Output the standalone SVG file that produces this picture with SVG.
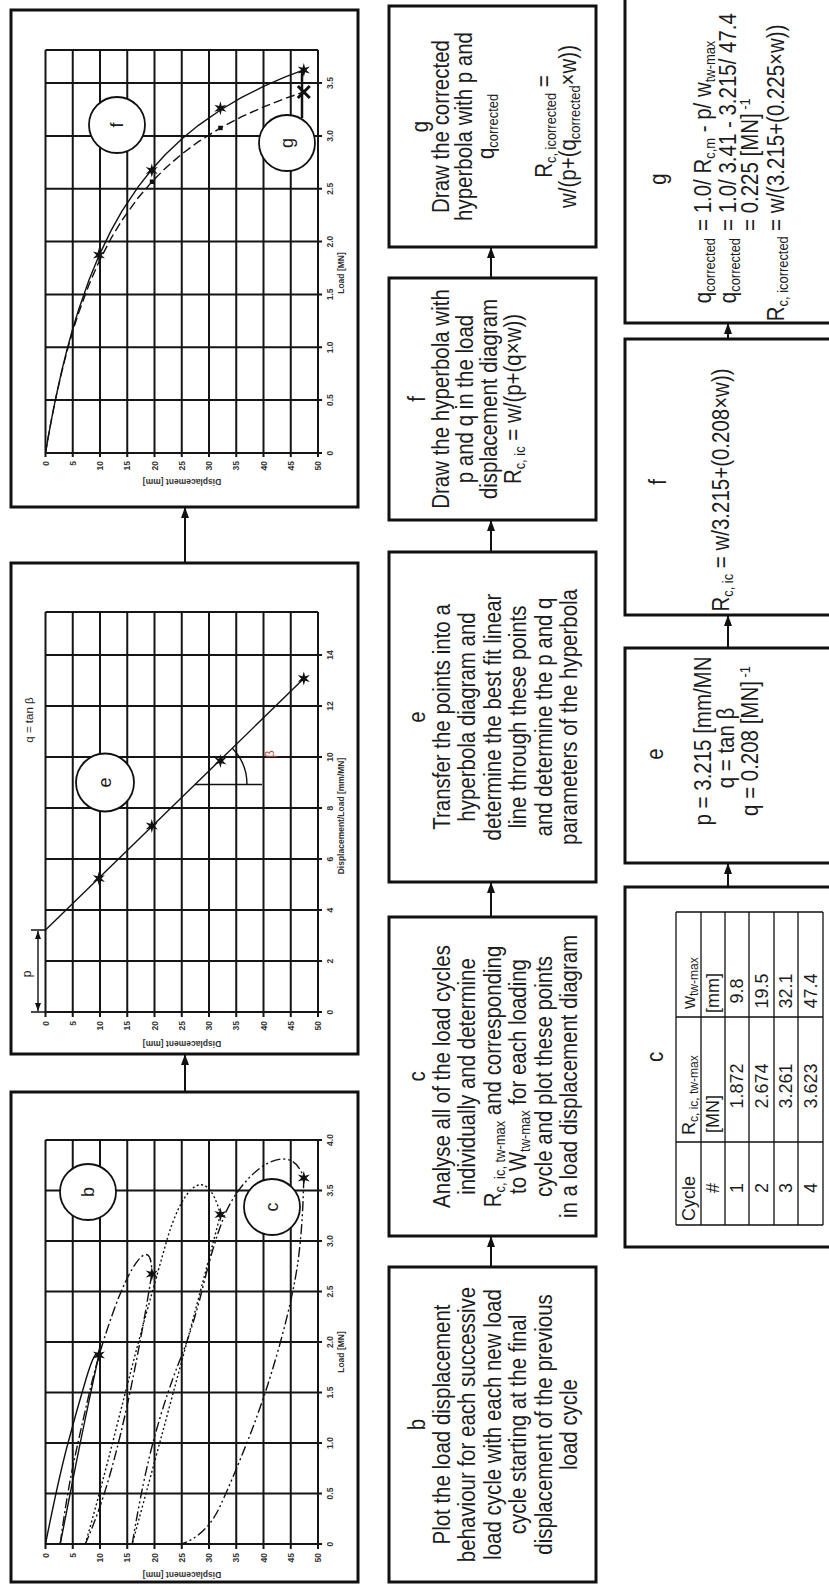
<svg xmlns="http://www.w3.org/2000/svg" width="829" height="1584" viewBox="0 0 829 1584">
<defs>
<style>
.box{fill:#fff;stroke:#111;stroke-width:3}
.grid{fill:none;stroke:#151515;stroke-width:2}
.t{font-family:"Liberation Sans",Arial,sans-serif;font-size:23px;fill:#1c1c1c}
.m{text-anchor:middle}
.e{text-anchor:end}
.sb{font-size:14.5px}
.ax{font-family:"Liberation Sans",Arial,sans-serif;font-size:8.5px;font-weight:bold;fill:#333}
.tb{font-family:"Liberation Sans",Arial,sans-serif;font-size:18px;fill:#1c1c1c}
.ts{font-size:12px}
.cl{font-family:"Liberation Sans",Arial,sans-serif;font-size:18px;fill:#1c1c1c;text-anchor:middle}
.conn{fill:none;stroke:#111;stroke-width:2;marker-end:url(#ah)}
.circ{fill:#fff;stroke:#111;stroke-width:1.8}
.cv{fill:none;stroke:#111;stroke-width:1.4}
.tbl{fill:none;stroke:#111;stroke-width:1.3}
</style>
<marker id="ah" markerUnits="userSpaceOnUse" markerWidth="11" markerHeight="8" refX="11" refY="4" orient="auto"><path d="M0 0L11 4L0 8z" fill="#111"/></marker>
<marker id="ap" markerUnits="userSpaceOnUse" markerWidth="8" markerHeight="6" refX="8" refY="3" orient="auto-start-reverse"><path d="M0 0L8 3L0 6z" fill="#111"/></marker>
<polygon id="star" points="7,0 2.25,1.3 3.5,6.06 0,2.6 -3.5,6.06 -2.25,1.3 -7,0 -2.25,-1.3 -3.5,-6.06 0,-2.6 3.5,-6.06 2.25,-1.3" fill="#111"/>
<path id="xm" d="M-6 -6L6 6M-6 6L6 -6" stroke="#111" stroke-width="3" fill="none"/>
</defs>
<rect width="829" height="1584" fill="#fff"/>
<g transform="matrix(0,-1,1,0,0,1584)">

<!-- Chart b (load cycles) -->
<g id="chart-b">
<rect class="box" x="2" y="11" width="490" height="347"/>
<path class="grid" d="M40 45.5V322M90.5 45.5V322M141 45.5V322M191.5 45.5V322M242 45.5V322M292.5 45.5V322M343 45.5V322M393.5 45.5V322M444 45.5V322M35 45.5H444M35 72.75H444M35 100H444M35 127.25H444M35 154.5H444M35 181.75H444M35 209H444M35 236.25H444M35 263.5H444M35 290.75H444M35 318H444"/>
<g class="ax m">
<text x="40" y="333">0</text><text x="90.5" y="333">0.5</text><text x="141" y="333">1.0</text><text x="191.5" y="333">1.5</text><text x="242" y="333">2.0</text><text x="292.5" y="333">2.5</text><text x="343" y="333">3.0</text><text x="393.5" y="333">3.5</text><text x="444" y="333">4.0</text>
<text x="232" y="344">Load [MN]</text>
<text transform="translate(12 182) rotate(-90)">Displacement [mm]</text>
</g>
<g class="ax e">
<text x="31" y="48.5">0</text><text x="31" y="75.75">5</text><text x="31" y="103">10</text><text x="31" y="130.25">15</text><text x="31" y="157.5">20</text><text x="31" y="184.75">25</text><text x="31" y="212">30</text><text x="31" y="239.25">35</text><text x="31" y="266.5">40</text><text x="31" y="293.75">45</text><text x="31" y="321">50</text>
</g>
<path class="cv" d="M40 45.5Q105.7 58.6 139.5 67.6Q173.3 76.6 205.2 86.1Q237 95.6 229.1 98.9M229.1 98.9Q156.2 83.1 114.8 75Q73.3 66.8 40 60.2"/>
<path class="cv" stroke-dasharray="10 3 2 3" d="M40 60.2Q89.5 66.8 124.8 74.4Q160 82 196 90.5Q231.9 98.9 270.8 112.8C320 130 352 152 310.1 151.8M310.1 151.8Q256.1 143.1 206.2 133Q156.2 122.9 114.8 111.5Q73.3 100 40 85.3"/>
<path class="cv" stroke-dasharray="2 2.5" d="M40 85.3Q89.5 99.5 156.2 116.4Q222.8 133.2 259.7 143.3Q296.5 153.4 343.5 166.8C390 180 428 205 369.4 220.4M369.4 220.4Q289.5 199.7 240 186.4Q190.5 173 148.1 161.6Q105.7 150.1 40 132.2"/>
<path class="cv" stroke-dasharray="10 3 2 3 2 3" d="M40 132.2Q105.7 143.1 148.1 154.8Q190.5 166.5 223.9 179.9Q257.2 193.2 298.6 203.3Q340 213.4 365.3 223.2C410 240 450 290 405.9 303.8M405.9 303.8Q357.1 302.7 323.3 298.1Q289.5 293.5 240 279.9Q190.5 266.2 148.1 249.6Q105.7 233 77.4 219.9Q49.1 206.8 40 181.75"/>
<circle class="circ" cx="392" cy="88" r="28"/>
<text class="cl" x="392" y="94">b</text>
<circle class="circ" cx="377" cy="272" r="28"/>
<text class="cl" x="377" y="278">c</text>
<use href="#star" x="229.1" y="98.9"/>
<use href="#star" x="310.1" y="151.8"/>
<use href="#star" x="369.4" y="220.4"/>
<use href="#star" x="405.9" y="303.8"/>
</g>

<!-- Chart e (hyperbola transform) -->
<g id="chart-e">
<rect class="box" x="530" y="11" width="491" height="347"/>
<path class="grid" d="M572 45.5V322M623 45.5V322M674 45.5V322M725 45.5V322M776 45.5V322M827 45.5V322M878 45.5V322M929 45.5V322M972 45.5V318M567 45.5H972M567 72.75H972M567 100H972M567 127.25H972M567 154.5H972M567 181.75H972M567 209H972M567 236.25H972M567 263.5H972M567 290.75H972M567 318H972"/>
<g class="ax m">
<text x="572" y="333">0</text><text x="623" y="333">2</text><text x="674" y="333">4</text><text x="725" y="333">6</text><text x="776" y="333">8</text><text x="827" y="333">10</text><text x="878" y="333">12</text><text x="929" y="333">14</text>
<text x="768" y="344">Displacement/Load [mm/MN]</text>
<text transform="translate(543 182) rotate(-90)">Displacement [mm]</text>
</g>
<g class="ax e">
<text x="563" y="48.5">0</text><text x="563" y="75.75">5</text><text x="563" y="103">10</text><text x="563" y="130.25">15</text><text x="563" y="157.5">20</text><text x="563" y="184.75">25</text><text x="563" y="212">30</text><text x="563" y="239.25">35</text><text x="563" y="266.5">40</text><text x="563" y="293.75">45</text><text x="563" y="321">50</text>
</g>
<path class="cv" d="M654 45.5L905.4 303.8"/>
<path class="cv" d="M572 31V45.5M654 31V45.5"/>
<path class="cv" d="M573 38H653" marker-start="url(#ap)" marker-end="url(#ap)"/>
<text class="cl" style="font-size:12px" x="610" y="31">p</text>
<text class="cl" style="font-size:11.5px" x="864" y="33">q = tan β</text>
<path class="cv" d="M799.5 195V262M799.5 247A52 52 0 0 0 835.8 232.3"/>
<text class="cl" style="font-size:13px;fill:#b5523b" x="830" y="274">β</text>
<circle class="circ" cx="801.5" cy="105" r="29"/>
<text class="cl" x="801.5" y="111">e</text>
<use href="#star" x="705.5" y="98.9"/>
<use href="#star" x="758" y="151.8"/>
<use href="#star" x="823" y="220.4"/>
<use href="#star" x="905.6" y="303.8"/>
</g>

<!-- Chart f (hyperbola in load displacement diagram) -->
<g id="chart-f">
<rect class="box" x="1077" y="11" width="497" height="347"/>
<path class="grid" d="M1131 45.5V322M1183.9 45.5V322M1236.7 45.5V322M1289.6 45.5V322M1342.4 45.5V322M1395.3 45.5V322M1448.1 45.5V322M1501 45.5V322M1534 45.5V318M1127 45.5H1534M1127 72.75H1534M1127 100H1534M1127 127.25H1534M1127 154.5H1534M1127 181.75H1534M1127 209H1534M1127 236.25H1534M1127 263.5H1534M1127 290.75H1534M1127 318H1534"/>
<g class="ax m">
<text x="1131" y="333">0</text><text x="1183.9" y="333">0.5</text><text x="1236.7" y="333">1.0</text><text x="1289.6" y="333">1.5</text><text x="1342.4" y="333">2.0</text><text x="1395.3" y="333">2.5</text><text x="1448.1" y="333">3.0</text><text x="1501" y="333">3.5</text>
<text x="1311" y="344">Load [MN]</text>
<text transform="translate(1105 182) rotate(-90)">Displacement [mm]</text>
</g>
<g class="ax e">
<text x="1123" y="48.5">0</text><text x="1123" y="75.75">5</text><text x="1123" y="103">10</text><text x="1123" y="130.25">15</text><text x="1123" y="157.5">20</text><text x="1123" y="184.75">25</text><text x="1123" y="212">30</text><text x="1123" y="239.25">35</text><text x="1123" y="266.5">40</text><text x="1123" y="293.75">45</text><text x="1123" y="321">50</text>
</g>
<polyline class="cv" points="1131,45.5 1146.92,48.23 1161.88,50.95 1175.95,53.68 1189.22,56.4 1213.6,61.85 1235.47,67.3 1255.21,72.75 1273.1,78.2 1304.31,89.1 1328.18,98.91 1353.1,110.9 1372.52,121.8 1397.17,138.15 1414.48,151.78 1429.47,165.4 1445.02,181.75 1458.42,198.1 1474.01,220.45 1486.53,241.7 1497.54,263.5 1507.07,285.3 1514.21,303.83"/>
<polyline class="cv" stroke-dasharray="9 4" points="1131,45.5 1146.88,48.23 1161.73,50.95 1175.63,53.68 1188.68,56.4 1212.52,61.85 1233.75,67.3 1252.77,72.75 1269.93,78.2 1299.61,89.1 1322.12,98.91 1345.44,110.9 1363.49,121.8 1386.24,138.15 1402.11,151.78 1415.8,165.4 1429.93,181.75 1442.05,198.1 1456.07,220.45 1467.3,241.7 1477.13,263.5 1485.62,285.3 1491.97,303.83"/>
<path d="M1466 302H1512" stroke="#111" stroke-width="2.5"/>
<rect x="1400" y="149.8" width="4.5" height="4.5" fill="#111"/>
<rect x="1453.8" y="218.2" width="4.5" height="4.5" fill="#111"/>
<circle class="circ" cx="1459" cy="117" r="28"/>
<text class="cl" x="1459" y="123">f</text>
<circle class="circ" cx="1441" cy="287" r="28"/>
<text class="cl" x="1441" y="293">g</text>
<use href="#star" x="1328.9" y="98.9"/>
<use href="#star" x="1413.6" y="151.8"/>
<use href="#star" x="1475.7" y="220.4"/>
<use href="#star" x="1514" y="303.8"/>
<use href="#xm" x="1492" y="303.8"/>
</g>

<!-- Middle row: text boxes -->
<g id="box-b">
<rect class="box" x="2" y="389" width="315" height="207"/>
<g class="t m" transform="translate(159.5 0) scale(0.89 1)">
<text x="0" y="425">b</text>
<text x="0" y="450">Plot the load displacement</text>
<text x="0" y="475.5">behaviour for each successive</text>
<text x="0" y="501">load cycle with each new load</text>
<text x="0" y="526.5">cycle starting at the final</text>
<text x="0" y="552">displacement of the previous</text>
<text x="0" y="577">load cycle</text>
</g>
</g>
<g id="box-c">
<rect class="box" x="348" y="389" width="319" height="207"/>
<g class="t m" transform="translate(507.5 0) scale(0.89 1)">
<text x="0" y="425">c</text>
<text x="0" y="450">Analyse all of the load cycles</text>
<text x="0" y="475.5">individually and determine</text>
<text x="0" y="501">R<tspan class="sb" dy="4">c, ic, tw-max</tspan><tspan dy="-4">  and corresponding</tspan></text>
<text x="0" y="526.5">to W<tspan class="sb" dy="4">tw-max</tspan><tspan dy="-4">  for each loading</tspan></text>
<text x="0" y="552">cycle and plot these points</text>
<text x="0" y="577">in a load displacement diagram</text>
</g>
</g>
<g id="box-e">
<rect class="box" x="702" y="389" width="330" height="207"/>
<g class="t m" transform="translate(867 0) scale(0.89 1)">
<text x="0" y="425">e</text>
<text x="0" y="450">Transfer the points into a</text>
<text x="0" y="475.5">hyperbola diagram and</text>
<text x="0" y="501">determine the best fit linear</text>
<text x="0" y="526.5">line through these points</text>
<text x="0" y="552">and determine the p and q</text>
<text x="0" y="577">parameters of the hyperbola</text>
</g>
</g>
<g id="box-f">
<rect class="box" x="1064" y="389" width="242" height="207"/>
<g class="t m" transform="translate(1185 0) scale(0.89 1)">
<text x="0" y="425">f</text>
<text x="0" y="449">Draw the hyperbola with</text>
<text x="0" y="473">p and q in the load</text>
<text x="0" y="497">displacement diagram</text>
<text x="0" y="521">R<tspan class="sb" dy="4">c, ic</tspan><tspan dy="-4"> = w/(p+(q×w))</tspan></text>
</g>
</g>
<g id="box-g">
<rect class="box" x="1337" y="389" width="241" height="207"/>
<g class="t m" transform="translate(1457.5 0) scale(0.89 1)">
<text x="0" y="428">g</text>
<text x="0" y="449">Draw the corrected</text>
<text x="0" y="472">hyperbola with p and</text>
<text x="0" y="494">q<tspan class="sb" dy="4">corrected</tspan></text>
<text x="0" y="552">R<tspan class="sb" dy="4">c, icorrected</tspan><tspan dy="-4"> =</tspan></text>
<text x="0" y="576">w/(p+(q<tspan class="sb" dy="4">corrected</tspan><tspan dy="-4">×w))</tspan></text>
</g>
</g>

<!-- Bottom row: calculation boxes -->
<g id="calc-c">
<rect class="box" x="337" y="625" width="360" height="230"/>
<text class="t m" transform="translate(527 0) scale(0.89 1)" x="0" y="663">c</text>
<path class="tbl" d="M359 676H672M359 701H672M359 725H672M359 749H672M359 774H672M359 798H672M359 823H672M359 676V823M442 676V823M567 676V823M672 676V823"/>
<g class="tb">
<text x="363" y="694.5">Cycle</text>
<text x="449" y="694.5">R<tspan class="ts" dy="3">c, ic, tw-max</tspan></text>
<text x="575" y="694.5">w<tspan class="ts" dy="3">tw-max</tspan></text>
<text x="451" y="719">[MN]</text>
<text x="571" y="719">[mm]</text>
</g>
<g class="tb m">
<text x="396" y="719">#</text>
<text x="396" y="743">1</text><text x="396" y="767.5">2</text><text x="396" y="792">3</text><text x="396" y="816.5">4</text>
<text x="498" y="743">1.872</text><text x="498" y="767.5">2.674</text><text x="498" y="792">3.261</text><text x="498" y="816.5">3.623</text>
<text x="593" y="743">9.8</text><text x="593" y="767.5">19.5</text><text x="593" y="792">32.1</text><text x="593" y="816.5">47.4</text>
</g>
</g>
<g id="calc-e">
<rect class="box" x="721" y="625" width="215" height="230"/>
<g class="t m">
<text transform="translate(830 0) scale(0.89 1)" x="0" y="663">e</text>
<text transform="translate(843 0) scale(0.89 1)" x="0" y="711">p = 3.215 [mm/MN</text>
<text transform="translate(836 0) scale(0.89 1)" x="0" y="734">q = tan β</text>
<text transform="translate(843 0) scale(0.89 1)" x="0" y="758">q = 0.208 [MN]<tspan class="sb" dy="-8"> -1</tspan></text>
</g>
</g>
<g id="calc-f">
<rect class="box" x="969" y="625" width="276" height="230"/>
<g class="t m">
<text transform="translate(1102 0) scale(0.89 1)" x="0" y="666">f</text>
<text transform="translate(1094 0) scale(0.89 1)" x="0" y="729">R<tspan class="sb" dy="4">c, ic</tspan><tspan dy="-4"> = w/3.215+(0.208×w))</tspan></text>
</g>
</g>
<g id="calc-g">
<rect class="box" x="1261" y="625" width="330" height="230"/>
<text class="t m" transform="translate(1405 0) scale(0.89 1)" x="0" y="666">g</text>
<g class="t e" transform="translate(1346 0) scale(0.89 1)">
<text x="0" y="711">q<tspan class="sb" dy="4">corrected</tspan></text>
<text x="0" y="736">q<tspan class="sb" dy="4">corrected</tspan></text>
<text x="2" y="784">R<tspan class="sb" dy="4">c, icorrected</tspan></text>
</g>
<g class="t" transform="translate(1353 0) scale(0.89 1)">
<text x="0" y="711">= 1.0/ R<tspan class="sb" dy="4">c,m</tspan><tspan dy="-4"> - p/ w</tspan><tspan class="sb" dy="4">tw-max</tspan></text>
<text x="0" y="736">= 1.0/ 3.41 - 3.215/ 47.4</text>
<text x="0" y="758">= 0.225 [MN]<tspan class="sb" dy="-8"> -1</tspan></text>
<text x="0" y="784">= w/(3.215+(0.225×w))</text>
</g>
</g>

<!-- Connectors -->
<g id="connectors">
<path class="conn" d="M492 185H530"/>
<path class="conn" d="M1021 185H1077"/>
<path class="conn" d="M317 491H348"/>
<path class="conn" d="M667 491H702"/>
<path class="conn" d="M1032 491H1064"/>
<path class="conn" d="M1306 491H1337"/>
<path class="conn" d="M697 728H721"/>
<path class="conn" d="M936 728H969"/>
<path class="conn" d="M1245 728H1261"/>
</g>
</g>
</svg>
